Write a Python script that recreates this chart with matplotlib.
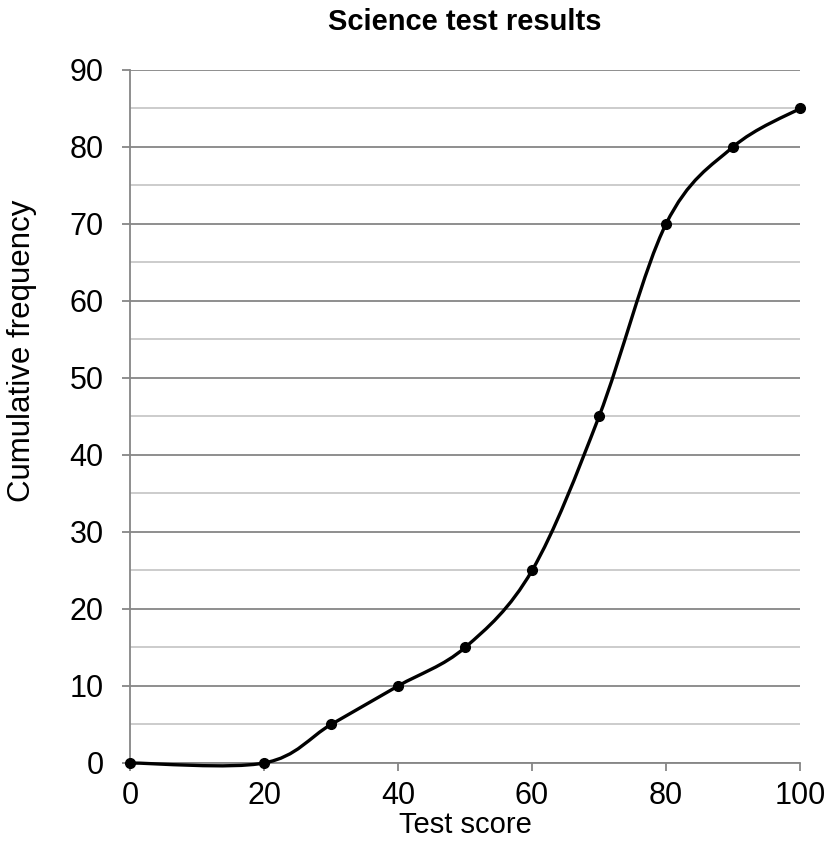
import numpy as np
import matplotlib
matplotlib.use('Agg')
import matplotlib.pyplot as plt
from matplotlib.path import Path
from matplotlib.patches import PathPatch

plt.rcParams['font.family'] = ['Liberation Sans', 'DejaVu Sans']

# data
scores = [0, 20, 30, 40, 50, 60, 70, 80, 90, 100]
cum_freq = [0, 0, 5, 10, 15, 25, 45, 70, 80, 85]

fig = plt.figure(figsize=(8.29, 8.47), dpi=100)
ax = fig.add_axes([0.157, 0.0992, 0.808, 0.8182])

# smoothed line (Excel-style bezier through the points)
pts = np.column_stack([scores, cum_freq]).astype(float)
verts = [pts[0]]
codes = [Path.MOVETO]
n = len(pts)
for i in range(n - 1):
    p0 = pts[i - 1] if i > 0 else pts[i]
    p1 = pts[i]
    p2 = pts[i + 1]
    p3 = pts[i + 2] if i + 2 < n else pts[i + 1]
    c1 = p1 + (p2 - p0) / 6.0
    c2 = p2 - (p3 - p1) / 6.0
    verts += [c1, c2, p2]
    codes += [Path.CURVE4] * 3
ax.add_patch(PathPatch(Path(verts, codes), fill=False, lw=2.4, color='black',
                       zorder=3, clip_on=False))
ax.plot(scores, cum_freq, 'o', color='black', ms=7, zorder=4, clip_on=False)

ax.set_xlim(0, 100)
ax.set_ylim(0, 90)
ax.set_xticks(range(0, 101, 20))
ax.set_yticks(range(0, 91, 10))
ax.set_yticks(range(5, 90, 10), minor=True)
ax.yaxis.grid(True, which='major', color='#868686', lw=1.3)
ax.yaxis.grid(True, which='minor', color='#c8c8c8', lw=1.3)
ax.set_axisbelow(True)
ax.tick_params(which='major', labelsize=22, length=6, color='#868686', width=1.3)
ax.tick_params(axis='x', pad=7)
ax.tick_params(axis='y', pad=13)
ax.tick_params(which='minor', length=0)
for s in ['top', 'right']:
    ax.spines[s].set_visible(False)
for s in ['left', 'bottom']:
    ax.spines[s].set_color('#868686')
    ax.spines[s].set_linewidth(1.3)

ax.set_xlabel('Test score', fontsize=21, labelpad=0)
ax.set_ylabel('Cumulative frequency', fontsize=22.5)
ax.yaxis.set_label_coords(-0.139, 0.595)
ax.set_title('Science test results', fontsize=21, fontweight='bold', pad=29)

fig.savefig('out.png', dpi=100)
